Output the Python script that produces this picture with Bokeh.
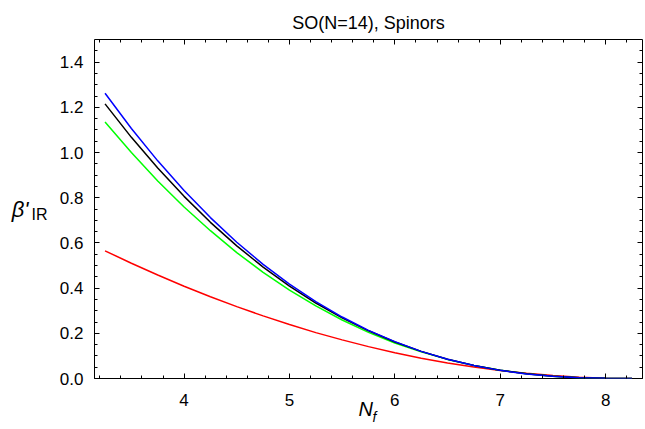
from bokeh.plotting import figure
from bokeh.models import (LinearAxis, Range1d, SingleIntervalTicker, FixedTicker,
                          PrintfTickFormatter, CustomJSTickFormatter)
from bokeh.embed import file_html
from bokeh.resources import INLINE

# Data
nf = [3.25, 3.5, 3.75, 4.0, 4.25, 4.5, 4.75, 5.0, 5.25, 5.5, 5.75, 6.0,
      6.25, 6.5, 6.75, 7.0, 7.25, 7.5, 7.75, 8.0, 8.25]
beta_blue = [1.262, 1.106, 0.963, 0.832, 0.712, 0.603, 0.505, 0.418, 0.340, 0.272, 0.213, 0.163,
             0.120, 0.0853, 0.0577, 0.036, 0.0203, 0.0097, 0.0034, 0.0006, 0.0]
beta_black = [1.215, 1.067, 0.931, 0.806, 0.691, 0.587, 0.493, 0.409, 0.334, 0.268, 0.211, 0.1615,
              0.120, 0.0855, 0.058, 0.0366, 0.0208, 0.0101, 0.0036, 0.0006, 0.0]
beta_green = [1.135, 1.000, 0.874, 0.759, 0.654, 0.557, 0.470, 0.391, 0.321, 0.259, 0.204, 0.157,
              0.118, 0.0845, 0.0577, 0.0368, 0.0212, 0.0104, 0.0038, 0.0007, 0.0]
beta_red = [0.565, 0.510, 0.458, 0.408, 0.362, 0.318, 0.277, 0.239, 0.203, 0.171, 0.141, 0.114,
            0.090, 0.069, 0.051, 0.035, 0.023, 0.013, 0.006, 0.0014, 0.0]

title_text = "SO(N=14), Spinors"
x_label_main, x_label_sub = "N", "f"
y_label_main, y_label_sub = "β'", "IR"
x_min, x_max = 3.15, 8.35
y_min, y_max = 0.0, 1.5

FONT = "Liberation Sans"
NBSP = "\u00a0"

p = figure(width=645, height=429, output_backend="svg", toolbar_location=None,
           x_range=Range1d(x_min, x_max), y_range=Range1d(y_min, y_max),
           x_axis_location=None, y_axis_location=None,
           min_border_left=94, min_border_right=3, min_border_top=39, min_border_bottom=51)
p.grid.visible = False
p.outline_line_color = "black"
p.outline_line_width = 1
p.background_fill_color = "white"
p.border_fill_color = "white"

p.title.text = title_text
p.title.align = "center"
p.title.text_font = FONT
p.title.text_font_size = "18px"
p.title.text_font_style = "normal"
p.title.text_color = "black"
p.title.standoff = 13


def tick_style(ax):
    ax.axis_line_color = None
    ax.major_tick_in = 5
    ax.major_tick_out = 0
    ax.minor_tick_in = 3
    ax.minor_tick_out = 0
    ax.major_tick_line_color = "black"
    ax.minor_tick_line_color = "black"


def label_only_axis(text, size, style, standoff):
    ax = LinearAxis(ticker=FixedTicker(ticks=[]), axis_label=text)
    ax.axis_line_color = None
    ax.major_tick_line_color = None
    ax.minor_tick_line_color = None
    ax.major_tick_out = 0
    ax.minor_tick_out = 0
    ax.major_label_standoff = 0
    ax.axis_label_standoff = standoff
    ax.axis_label_text_font = FONT
    ax.axis_label_text_font_size = size
    ax.axis_label_text_font_style = style
    ax.axis_label_text_color = "black"
    return ax


# bottom axis with labels
xb = LinearAxis(ticker=SingleIntervalTicker(interval=1, num_minor_ticks=5),
                axis_label=x_label_main + NBSP)
tick_style(xb)
xb.major_label_text_font = FONT
xb.major_label_text_font_size = "17px"
xb.major_label_text_color = "black"
xb.major_label_standoff = 15
xb.axis_label_standoff = -11
xb.axis_label_text_font = FONT
xb.axis_label_text_font_size = "20px"
xb.axis_label_text_font_style = "italic"
xb.axis_label_text_color = "black"
p.add_layout(xb, "below")
p.add_layout(label_only_axis(NBSP * 3 + x_label_sub, "14px", "italic", -14), "below")

# left axis with labels
yl = LinearAxis(ticker=SingleIntervalTicker(interval=0.2, num_minor_ticks=4),
                formatter=PrintfTickFormatter(format="%.1f"))
tick_style(yl)
yl.major_label_text_font = FONT
yl.major_label_text_font_size = "17px"
yl.major_label_text_color = "black"
yl.major_label_standoff = 11
p.add_layout(yl, "left")
ir_ax = label_only_axis(NBSP + "\n" + y_label_sub, "16px", "normal", 9)
ir_ax.axis_label_orientation = "horizontal"
ir_ax.axis_label_text_line_height = 0.6
p.add_layout(ir_ax, "left")
b_ax = label_only_axis(y_label_main, "22px", "italic", 0)
b_ax.axis_label_orientation = "horizontal"
p.add_layout(b_ax, "left")

# top / right: ticks only
blank = CustomJSTickFormatter(code="return ''")
xt = LinearAxis(ticker=SingleIntervalTicker(interval=1, num_minor_ticks=5), formatter=blank)
tick_style(xt)
xt.major_label_standoff = 0
xt.axis_label_standoff = 0
p.add_layout(xt, "above")
yr = LinearAxis(ticker=SingleIntervalTicker(interval=0.2, num_minor_ticks=4), formatter=blank)
tick_style(yr)
yr.major_label_standoff = 0
yr.axis_label_standoff = 0
p.add_layout(yr, "right")

p.line(nf, beta_red, line_color="#ff0000", line_width=1.5)
p.line(nf, beta_green, line_color="#00ff00", line_width=1.5)
p.line(nf, beta_black, line_color="black", line_width=1.5)
p.line(nf, beta_blue, line_color="#0000ff", line_width=1.5)

open("out.html", "w").write(file_html(p, INLINE))
